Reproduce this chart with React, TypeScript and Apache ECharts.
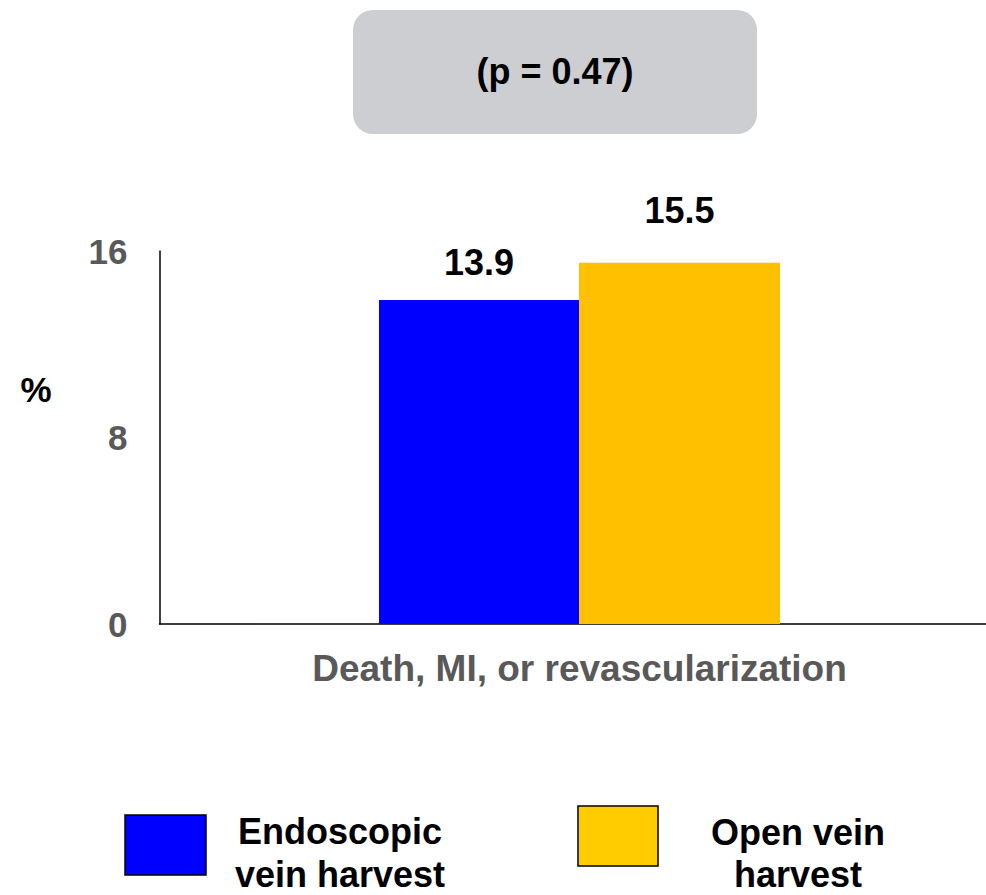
import React, { useEffect, useRef } from "react";
import * as echarts from "echarts";

const categories = ["Death, MI, or revascularization"];
const seriesNames = ["Endoscopic\nvein harvest", "Open vein\nharvest"];
const endoscopicValues = [13.9];
const openValues = [15.5];
const yTicks = [0, 8, 16];
const pValueText = "(p = 0.47)";
const yUnit = "%";

const FONT = "Liberation Sans, Arial, Helvetica, sans-serif";

export default function App() {
  const ref = useRef<HTMLDivElement>(null);
  useEffect(() => {
    if (!ref.current) return;
    const chart = echarts.init(ref.current, null, { renderer: "svg" });
    chart.setOption({
      animation: false,
      backgroundColor: "#ffffff",
      grid: { left: 159.5, right: 0.5, top: 251, bottom: 271, containLabel: false },
      xAxis: {
        type: "category",
        data: categories,
        axisLine: { show: true, lineStyle: { color: "#000000", width: 1.5 } },
        axisTick: { show: false },
        axisLabel: {
          margin: 26,
          color: "#595959",
          fontSize: 37,
          fontWeight: "bold",
          fontFamily: FONT,
        },
      },
      yAxis: {
        type: "value",
        min: yTicks[0],
        max: yTicks[yTicks.length - 1],
        interval: yTicks[1] - yTicks[0],
        splitLine: { show: false },
        axisLine: { show: true, lineStyle: { color: "#000000", width: 1.5 } },
        axisTick: { show: false },
        axisLabel: {
          margin: 32,
          color: "#595959",
          fontSize: 35,
          fontWeight: "bold",
          fontFamily: FONT,
        },
      },
      series: [
        {
          type: "bar",
          name: seriesNames[0],
          data: endoscopicValues,
          barWidth: 200,
          barGap: "0%",
          itemStyle: { color: "#0000FF" },
          label: {
            show: true,
            position: "top",
            distance: 19,
            color: "#000000",
            fontSize: 36,
            fontWeight: "bold",
            fontFamily: FONT,
          },
        },
        {
          type: "bar",
          name: seriesNames[1],
          data: openValues,
          barWidth: 201,
          barGap: "0%",
          itemStyle: { color: "#FFC000" },
          label: {
            show: true,
            position: "top",
            distance: 34,
            color: "#000000",
            fontSize: 36,
            fontWeight: "bold",
            fontFamily: FONT,
          },
        },
      ],
      graphic: [
        {
          type: "rect",
          shape: { x: 353, y: 10, width: 404, height: 124, r: 20 },
          style: { fill: "#CDCED2" },
        },
        {
          type: "text",
          x: 555,
          y: 71,
          style: {
            text: pValueText,
            fill: "#000000",
            font: `bold 36px ${FONT}`,
            textAlign: "center",
            textVerticalAlign: "middle",
          },
        },
        {
          type: "text",
          x: 36,
          y: 389,
          style: {
            text: yUnit,
            fill: "#000000",
            font: `bold 35px ${FONT}`,
            textAlign: "center",
            textVerticalAlign: "middle",
          },
        },
        {
          type: "rect",
          shape: { x: 125, y: 815, width: 81, height: 60 },
          style: { fill: "#0000FF", stroke: "#000000", lineWidth: 1.5 },
        },
        {
          type: "text",
          x: 340,
          y: 853,
          style: {
            text: seriesNames[0],
            fill: "#000000",
            font: `bold 36px ${FONT}`,
            lineHeight: 43,
            textAlign: "center",
            textVerticalAlign: "middle",
          },
        },
        {
          type: "rect",
          shape: { x: 578, y: 806, width: 80, height: 60 },
          style: { fill: "#FFCC00", stroke: "#000000", lineWidth: 1.5 },
        },
        {
          type: "text",
          x: 798,
          y: 853,
          style: {
            text: seriesNames[1],
            fill: "#000000",
            font: `bold 36px ${FONT}`,
            lineHeight: 42,
            textAlign: "center",
            textVerticalAlign: "middle",
          },
        },
      ],
    });
    return () => chart.dispose();
  }, []);
  return (
    <div
      ref={ref}
      style={{ position: "fixed", left: 0, top: 0, width: 1000, height: 895 }}
    />
  );
}
